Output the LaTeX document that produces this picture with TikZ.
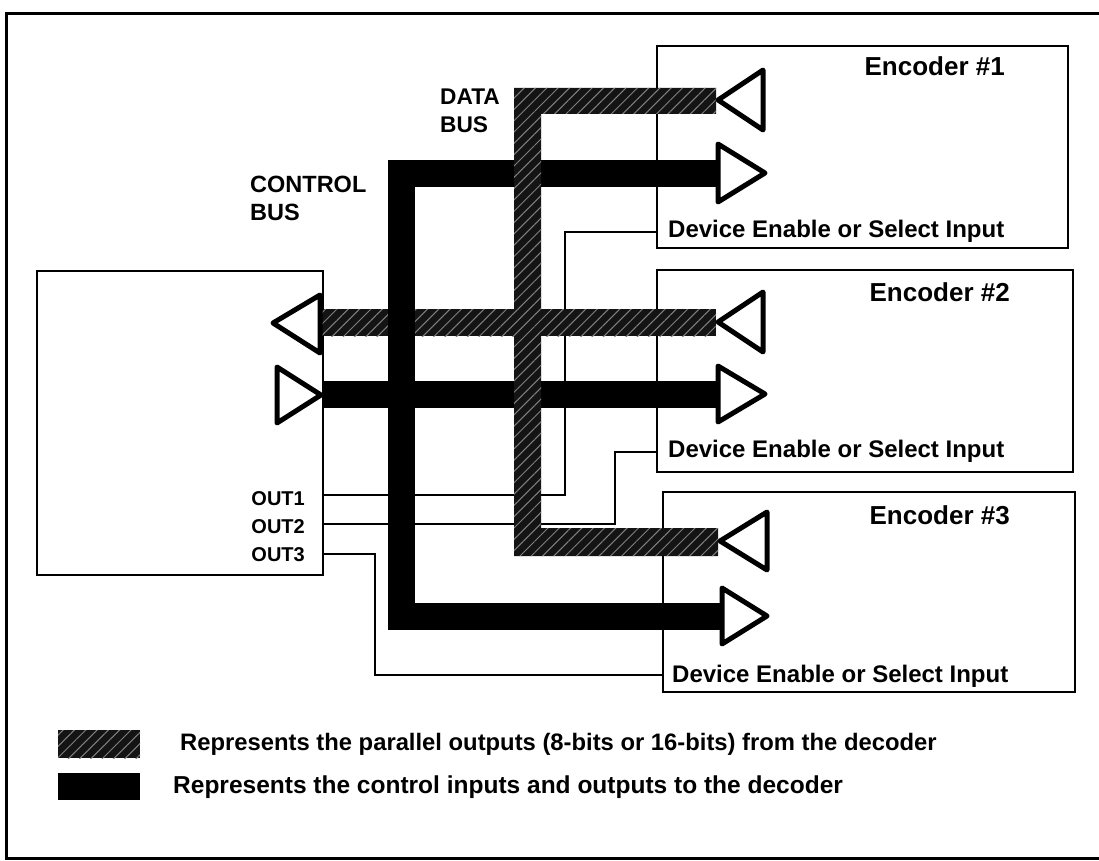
\documentclass[tikz,border=0pt]{standalone}
\usepackage{fontspec}
\setmainfont{Liberation Sans}
\usetikzlibrary{patterns.meta}
\begin{document}
\begin{tikzpicture}[x=1pt,y=-1pt,
  frameline/.style={line width=3pt},
  boxline/.style={draw, line width=2.8pt, inner sep=0pt},
  wire/.style={line width=2.7pt},
  ctrlbus/.style={line width=27pt, line join=miter},
  databus/.style={fill=black!92, postaction={pattern={Lines[angle=45,distance=8pt,line width=1pt]}, pattern color=black!50}},
  tri/.style={draw, fill=white, line width=5pt, line join=round},
  lbl/.style={font=\bfseries\fontsize{#1}{#1}\selectfont, inner sep=0pt},
]
\useasboundingbox (0,0) rectangle (1099,861);
% outer frame
\draw[frameline] (1105,14) -- (6,14) -- (6,858) -- (1105,858);

% boxes
\node[boxline, minimum width=286pt, minimum height=304pt] (dec) at (180,423) {};
\node[boxline, minimum width=411pt, minimum height=202pt] (E1) at (862.5,147) {};
\node[boxline, minimum width=416pt, minimum height=202pt] (E2) at (865,371) {};
\node[boxline, minimum width=412pt, minimum height=200pt] (E3) at (869,592) {};

% named points
\coordinate (o1) at (323,495);
\coordinate (o2) at (323,524);
\coordinate (o3) at (323,554);
\coordinate (en1) at (657,232);
\coordinate (en2) at (657,452);
\coordinate (en3) at (663,675);
\coordinate (cE1) at (718,173.5);
\coordinate (cE2) at (718,394);
\coordinate (cE3) at (722,616.5);
\coordinate (cDec) at (322,394);
\coordinate (ctlTop) at (401.5,173.5);
\coordinate (ctlBot) at (401.5,616.5);

% enable wires
\draw[wire] (o1) -- (565,495) -- (565,232) -- (en1);
\draw[wire] (o2) -- (615,524) -- (615,452) -- (en2);
\draw[wire] (o3) -- (375,554) -- (375,675) -- (en3);

% data bus to decoder (under control bus)
\path[databus] (320,309) rectangle (716,336);

% control bus
\draw[ctrlbus] (cE1) -- (ctlTop) -- (ctlBot) -- (cE3);
\draw[ctrlbus] (cDec) -- (cE2);

% data bus main (over control bus)
\path[databus] (514,88) -- (716,88) -- (716,114) -- (541,114) -- (541,528) -- (718,528) -- (718,556) -- (514,556) -- cycle;

% triangles
\draw[tri] (718,100) -- (763,70) -- (763,130) -- cycle;
\draw[tri] (718,144) -- (765,173) -- (718,202) -- cycle;
\draw[tri] (718,322) -- (763,292) -- (763,352) -- cycle;
\draw[tri] (718,366) -- (765,394) -- (718,422) -- cycle;
\draw[tri] (720,541) -- (767,512) -- (767,570) -- cycle;
\draw[tri] (722,588) -- (767,616) -- (722,644) -- cycle;
\draw[tri] (273,323) -- (320,295) -- (320,353) -- cycle;
\draw[tri] (277,367) -- (321,395) -- (277,423) -- cycle;

% labels
\node[lbl=26, anchor=base east] (t1) at (1005,76) {Encoder \#1};
\node[lbl=26, anchor=base east] (t2) at (1010,301) {Encoder \#2};
\node[lbl=26, anchor=base east] (t3) at (1010,524) {Encoder \#3};
\node[lbl=24, anchor=base west] (d1) at (668,237) {Device Enable or Select Input};
\node[lbl=24, anchor=base west] (d2) at (668,457) {Device Enable or Select Input};
\node[lbl=24, anchor=base west] (d3) at (672,682) {Device Enable or Select Input};
\node[lbl=23.5, anchor=base west] (cb1) at (250,192) {CONTROL};
\node[lbl=23.5, anchor=base west] (cb2) at (250,220) {BUS};
\node[lbl=22.7, anchor=base west] (db1) at (440,105) {DATA};
\node[lbl=22.7, anchor=base west] (db2) at (440,133) {BUS};
\node[lbl=20, anchor=base east] (l1) at (305,505) {OUT1};
\node[lbl=20, anchor=base east] (l2) at (305,533) {OUT2};
\node[lbl=20, anchor=base east] (l3) at (305,561) {OUT3};

% legend
\path[databus] (58,730) rectangle (140,758);
\fill (58,773) rectangle (140,800);
\node[lbl=23.8, anchor=base west] (lg1) at (180,750) {Represents the parallel outputs (8-bits or 16-bits) from the decoder};
\node[lbl=24.5, anchor=base west] (lg2) at (173,793) {Represents the control inputs and outputs to the decoder};
\end{tikzpicture}
\end{document}
